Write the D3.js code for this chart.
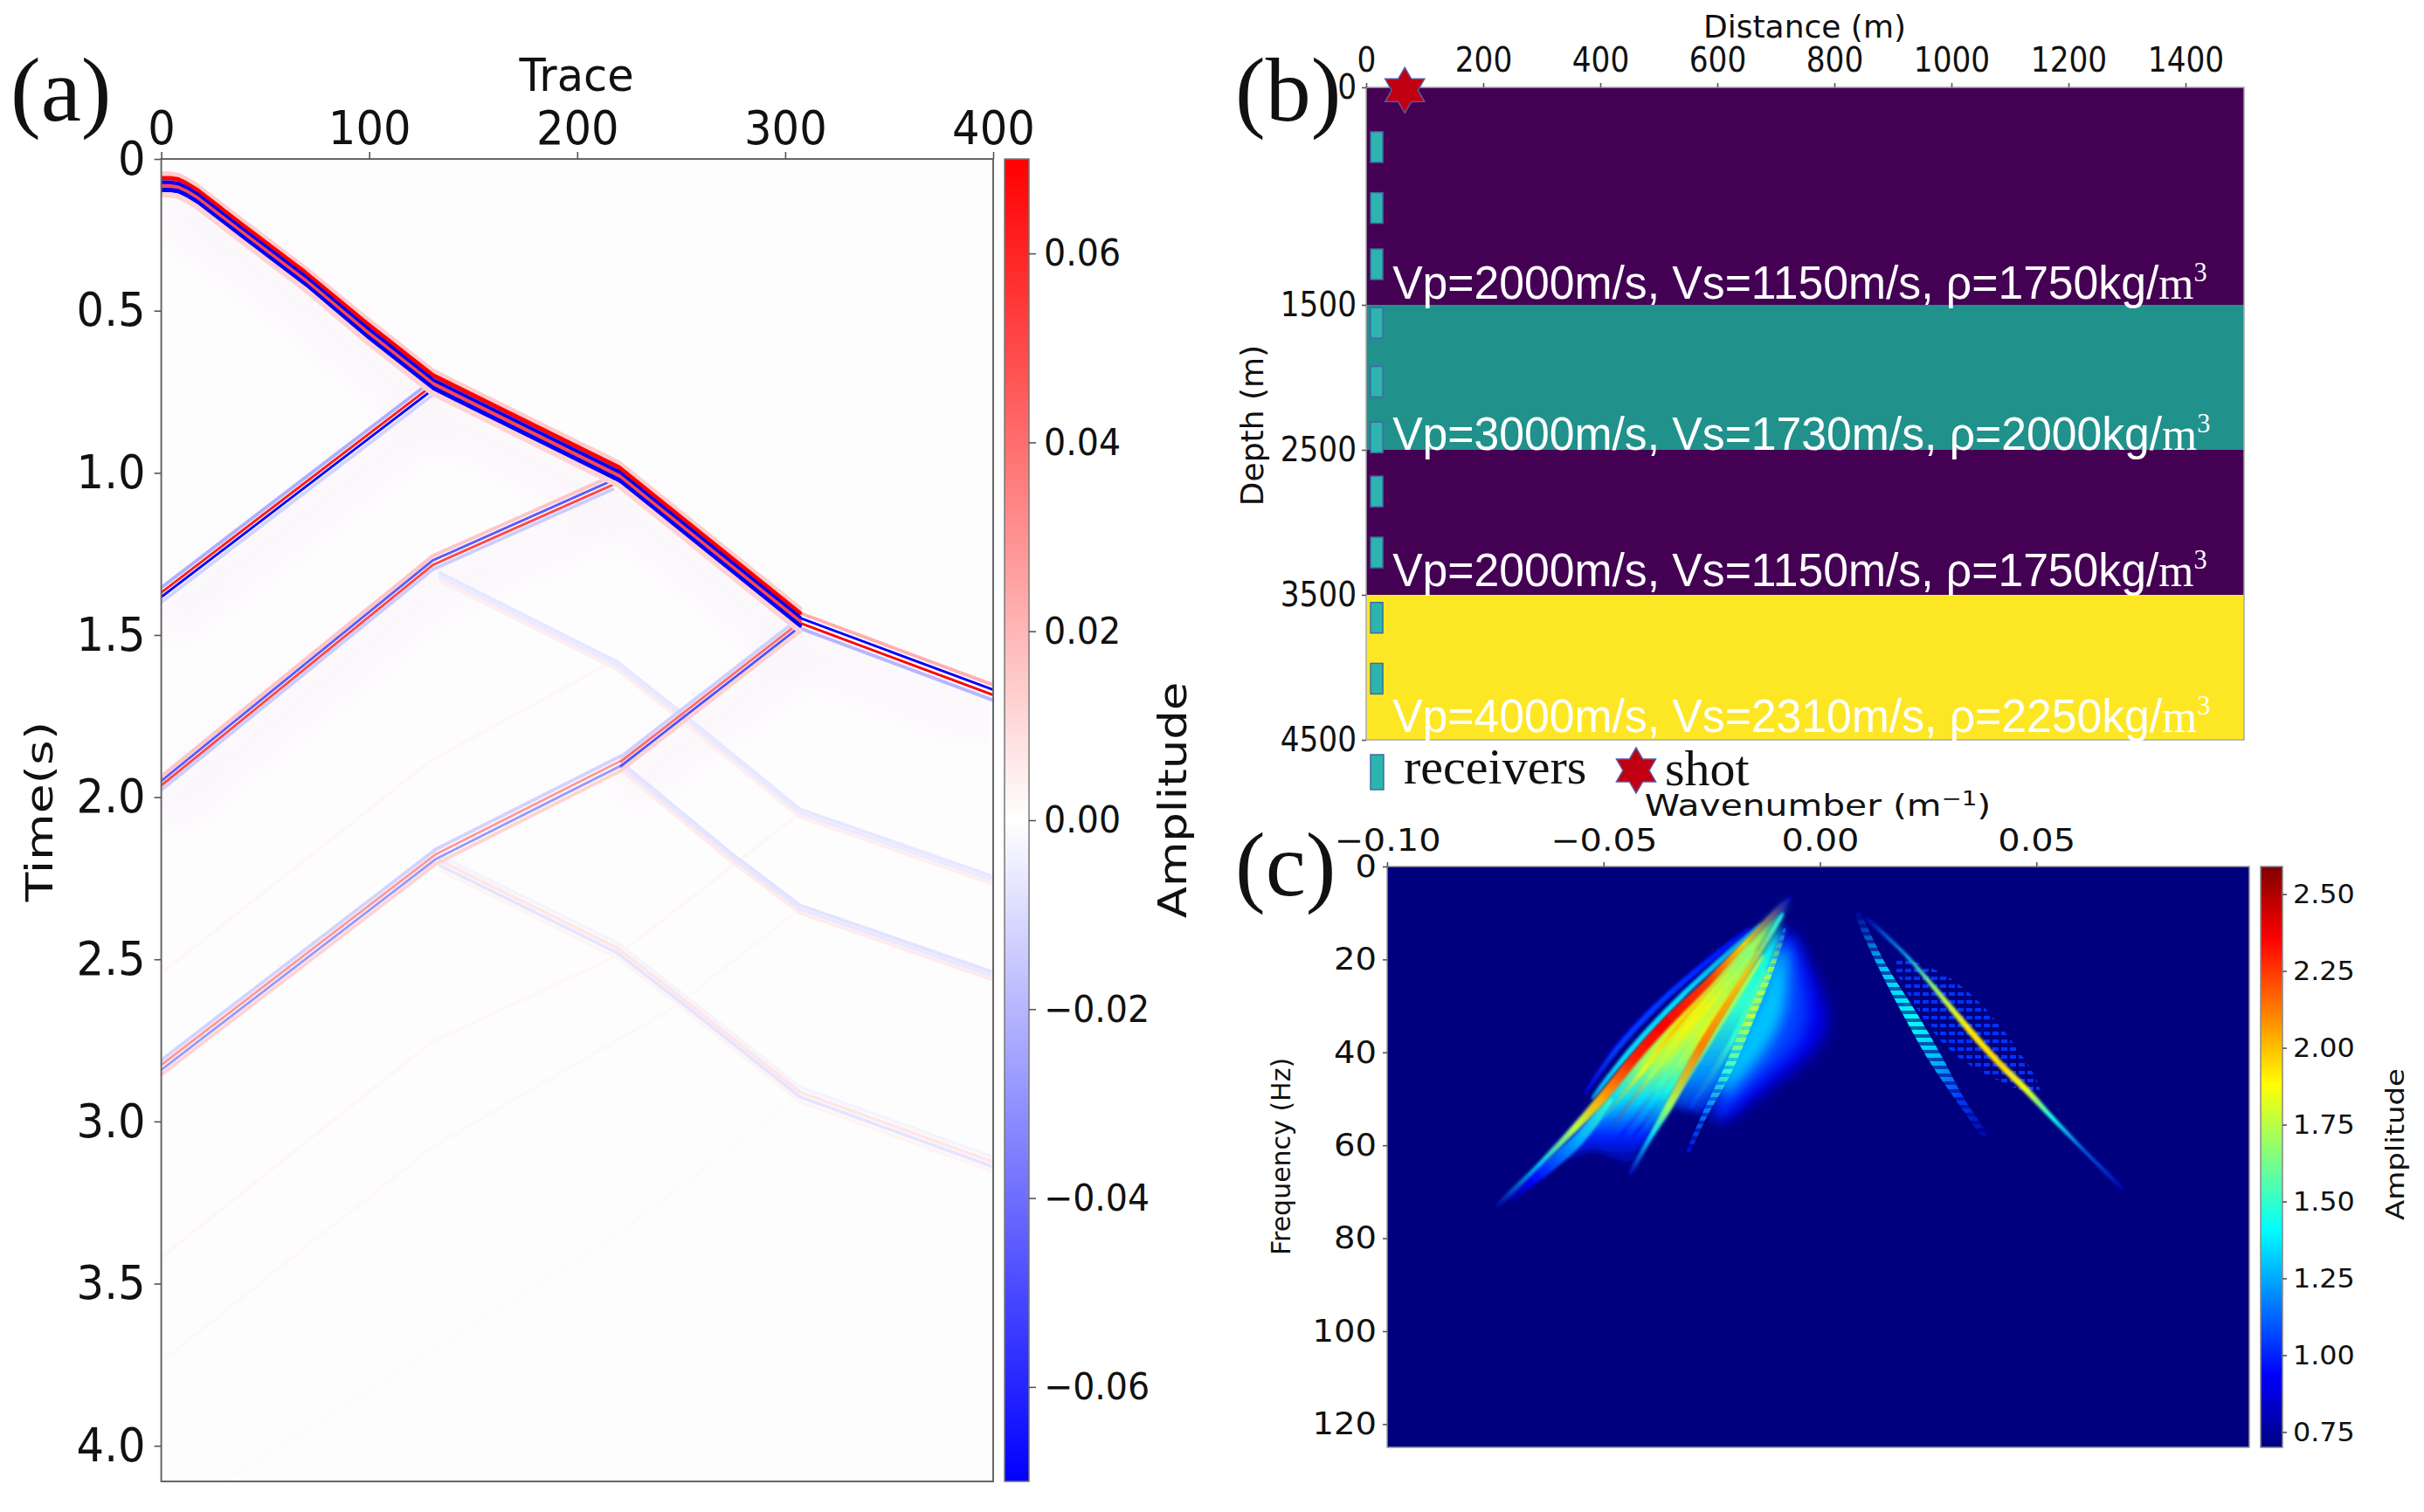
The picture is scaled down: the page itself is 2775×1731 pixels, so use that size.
<!DOCTYPE html>
<html>
<head>
<meta charset="utf-8">
<script src="https://cdn.jsdelivr.net/npm/d3@7"></script>
<style>
body { margin: 0; background: #fff; }
svg { display: block; }
text { font-family: "DejaVu Sans", sans-serif; fill: #111; }
.serif { font-family: "Liberation Serif", serif; }
.sans { font-family: "Liberation Sans", sans-serif; }
</style>
</head>
<body>
<svg id="fig" width="2775" height="1731"></svg>
<script>
// (a) shot gather: events as [trace, time]
const traceTicks = [0, 100, 200, 300, 400];
const timeTicks = [0, 0.5, 1, 1.5, 2, 2.5, 3, 3.5, 4];
const ampTicks = [-0.06, -0.04, -0.02, 0, 0.02, 0.04, 0.06];

const firstArrival = [[0, 0.09], [4, 0.09], [8, 0.094], [12, 0.107], [17, 0.128], [38, 0.239], [69, 0.40], [98, 0.562], [130.5, 0.726], [220, 1.01], [307, 1.459]];
const headWave = [[307, 1.459], [400, 1.681]];
const reflection1 = [[0, 1.379], [130, 0.742]];
const reflection2 = [[0, 1.96], [130.5, 1.28], [217, 1.033]];
const reflection3a = [[0, 2.838], [132, 2.188], [221, 1.90]];
const reflection3b = [[221, 1.90], [307, 1.471]];
const multiple1 = [[134, 1.32], [219, 1.594], [248, 1.741], [307, 2.049], [400, 2.257]];
const multiple2 = [[222, 1.91], [275, 2.19], [307, 2.345], [400, 2.552]];
const multiple3 = [[134, 2.208], [219, 2.476], [250, 2.63], [307, 2.921], [400, 3.137]];
const faint1 = [[0, 2.543], [130, 1.886], [219, 1.575]];
const faint2 = [[0, 3.42], [130, 2.755], [219, 2.49], [307, 2.05]];
const faint3 = [[0, 3.74], [130, 3.08], [246, 2.65], [307, 2.345]];
const faint4 = [[30, 4.11], [219, 3.35], [307, 2.92]];

// wavelets: [time shift, amplitude]
const waveMain = [[-0.04, 0.014], [-0.027, 0.07], [-0.012, -0.07], [0, 0.05], [0.012, -0.07], [0.029, 0.012]];
const waveHead = [[-0.027, 0.022], [-0.012, -0.07], [0.004, 0.07], [0.02, -0.02]];
const waveUp = [[-0.025, -0.022], [-0.01, 0.062], [0.004, -0.066], [0.02, -0.012]];
const waveMid = [[-0.024, 0.016], [-0.01, -0.045], [0.004, 0.05], [0.018, -0.014]];
const waveCross = [[-0.024, -0.014], [-0.01, 0.042], [0.004, -0.05], [0.018, 0.014]];
const waveLow = [[-0.027, -0.012], [-0.012, 0.028], [0.003, -0.028], [0.018, 0.012]];
const waveWeak = [[-0.012, -0.0055], [0, -0.0045], [0.012, 0.004]];
const waveFaint = [[0, 0.002]];

// (b) velocity model
const distanceTicks = [0, 200, 400, 600, 800, 1000, 1200, 1400];
const depthTicks = [0, 1500, 2500, 3500, 4500];
const layerTops = [0, 1500, 2500, 3500];
const layerBottoms = [1500, 2500, 3500, 4500];
const layerColors = ["#440154", "#21918c", "#440154", "#fde725"];
const layerVp = [2000, 3000, 2000, 4000];
const layerVs = [1150, 1730, 1150, 2310];
const layerRho = [1750, 2000, 1750, 2250];
const receiverDepths = [409, 829, 1217, 1622, 2027, 2411, 2784, 3205, 3655, 4075];
const receiverDistance = 18;
const shotDistance = 66;
const shotDepth = 20;

// (c) f-k spectrum, ridges as [wavenumber, frequency, amplitude]
const kTicks = [-0.1, -0.05, 0, 0.05];
const fTicks = [0, 20, 40, 60, 80, 100, 120];
const specTicks = [0.75, 1, 1.25, 1.5, 1.75, 2, 2.25, 2.5];
const lobeOuter = [[-0.0071, 14], [0.0012, 29.6], [-0.0008, 39], [-0.0153, 50.3], [-0.0236, 54.6], [-0.02, 40], [-0.012, 24]];
const lobeMiddle = [[-0.0075, 15], [-0.003, 28], [-0.005, 38], [-0.0165, 48], [-0.0245, 54], [-0.02, 40], [-0.012, 24]];
const lobeInner = [[-0.0085, 17], [-0.008, 30], [-0.013, 40], [-0.022, 49], [-0.022, 44], [-0.015, 30]];
const fanOutline = [[-0.007, 7], [-0.0173, 16.5], [-0.0256, 24.7], [-0.0359, 34], [-0.0431, 41.5], [-0.0502, 49.7], [-0.0564, 56], [-0.064, 64], [-0.052, 61], [-0.0441, 64], [-0.0389, 57.8], [-0.0349, 51.5], [-0.0276, 39], [-0.0173, 23.4], [-0.0095, 11]];
const fanProfile = [[7, 1.2], [15, 1.7], [30, 1.9], [42, 1.7], [50, 1.35], [58, 1.0], [65, 0.72]];
const gapOutline = [[-0.0085, 12], [-0.0173, 23.4], [-0.0276, 39], [-0.0349, 51.5], [-0.0266, 53.4], [-0.0163, 32.8], [-0.0113, 22]];
const gapProfile = [[12, 1.4], [30, 1.5], [45, 1.2], [55, 0.82]];
const specklePatch = [[0.0175, 20.3], [0.029, 23.4], [0.0403, 32.8], [0.0506, 47], [0.0454, 47.8], [0.031, 40.3], [0.0218, 29.6]];
const outerBandA = [[-0.0133, 12.2, 1.2], [-0.0318, 27.8, 1.35], [-0.0455, 41.5, 1.35], [-0.0527, 50, 1.25]];
const outerBandB = [[-0.0163, 13.3, 0.95], [-0.0359, 28.4, 1.05], [-0.0478, 40.3, 1.05], [-0.0544, 49, 0.9]];
const outerBandC = [[-0.0215, 17, 0.85], [-0.0389, 30.9, 0.9], [-0.0495, 41, 0.82]];
const tailBand = [[-0.048, 50, 1.5], [-0.056, 59, 1.25], [-0.066, 67, 0.95], [-0.072, 72, 0.75]];
const fanBand1 = [[-0.016, 16.5, 1.65], [-0.0325, 34, 2.0], [-0.041, 44, 1.85], [-0.05, 54, 1.25]];
const fanBand2 = [[-0.0155, 17.5, 1.6], [-0.031, 35, 1.9], [-0.039, 45, 1.7], [-0.049, 57, 1.05]];
const fanBand3 = [[-0.015, 18, 1.7], [-0.029, 36, 1.75], [-0.037, 47, 1.5], [-0.046, 58, 0.95]];
const fanBand4 = [[-0.014, 18, 1.65], [-0.027, 36, 1.85], [-0.035, 48, 1.45], [-0.043, 58, 0.9]];
const fanBand5 = [[-0.013, 19, 1.75], [-0.025, 37, 1.7], [-0.033, 49, 1.3], [-0.04, 58, 0.85]];
const gapBand1 = [[-0.0125, 22, 1.55], [-0.02, 37, 1.5], [-0.03, 52, 1.05]];
const gapBand2 = [[-0.0115, 22, 1.45], [-0.018, 37, 1.35], [-0.027, 53, 0.95]];
const ridgeMain = [[-0.0066, 6.5, 0.85], [-0.0173, 16.5, 1.95], [-0.0256, 24.7, 2.25], [-0.0359, 34, 2.36], [-0.0431, 41.5, 2.3], [-0.0502, 49.7, 2.05], [-0.0564, 56, 1.75], [-0.0647, 64, 1.3], [-0.075, 73.4, 0.75]];
const ridgeSecond = [[-0.0085, 10, 1.4], [-0.0173, 23.4, 2.0], [-0.0276, 39, 2.12], [-0.0349, 51.5, 1.7], [-0.0389, 57.8, 1.35], [-0.0441, 66.6, 0.8]];
const ridgeThird = [[-0.0081, 13.3, 1.1], [-0.0113, 22, 1.7], [-0.0163, 32.8, 1.75], [-0.0214, 44, 1.5], [-0.0266, 53.4, 1.15], [-0.0307, 62, 0.85]];
const rightRidge = [[0.0105, 10.9, 0.8], [0.0198, 19, 1.3], [0.0268, 26.5, 1.7], [0.0341, 34.7, 1.92], [0.0413, 42.2, 1.95], [0.0474, 47.8, 1.85], [0.0536, 54, 1.45], [0.0609, 61, 1.15], [0.0702, 69.6, 0.8]];
const rightRidge2 = [[0.0084, 9.7, 0.75], [0.0145, 21.6, 1.3], [0.0218, 33.4, 1.42], [0.0268, 41.5, 1.28], [0.0321, 49.7, 1.05], [0.0387, 58.7, 0.75]];

const svg = d3.select("#fig");
const defs = svg.append("defs");

function clipRect(id, x, y, w, h) {
  defs.append("clipPath").attr("id", id).append("rect").attr("x", x).attr("y", y).attr("width", w).attr("height", h);
}
function blurFilter(id, s) {
  defs.append("filter").attr("id", id).attr("x", "-30%").attr("y", "-30%").attr("width", "160%").attr("height", "160%")
    .attr("filterUnits", "objectBoundingBox")
    .append("feGaussianBlur").attr("stdDeviation", s);
}
blurFilter("soft", 0.7);
blurFilter("streak", 1.5);
blurFilter("base", 4);
blurFilter("glow", 8);
blurFilter("haze", 16);

// the original figure was resized unevenly, so tick text is squeezed by sx
function axisText(g, size, sx) {
  g.selectAll("text").attr("font-size", size).attr("fill", "#111")
    .attr("x", function () { return (+d3.select(this).attr("x") || 0) / sx; })
    .attr("transform", `scale(${sx},1)`);
  g.selectAll("line").attr("stroke", "#555").attr("stroke-width", 1.6);
  g.select(".domain").remove();
}
function label(x, y, txt, size, rot, sx) {
  const t = svg.append("text").attr("text-anchor", "middle").attr("font-size", size);
  t.attr("transform", `translate(${x},${y})` + (rot ? ` rotate(${rot})` : "") + (sx ? ` scale(${sx},1)` : "")).text(txt);
  return t;
}
function spine(x, y, w, h, color, width) {
  svg.append("rect").attr("x", x).attr("y", y).attr("width", w).attr("height", h)
    .attr("fill", "none").attr("stroke", color).attr("stroke-width", width);
}
function panelTag(x, y, txt) {
  svg.append("text").attr("class", "serif").attr("x", x).attr("y", y).attr("font-size", 104).text(txt);
}
function colorbarGradient(id, scale, lo, hi) {
  const grad = defs.append("linearGradient").attr("id", id).attr("x1", 0).attr("y1", 1).attr("x2", 0).attr("y2", 0);
  d3.range(0, 33).forEach(i => {
    const v = lo + (hi - lo) * i / 32;
    grad.append("stop").attr("offset", i / 32).attr("stop-color", scale(v));
  });
}

// ---------- panel (a) ----------
const aX = d3.scaleLinear().domain([0, 400]).range([184.6, 1137]);
const aY = d3.scaleLinear().domain([0, 0.5, 4.11]).range([182, 355.7, 1696]);
const bwr = d3.scaleLinear().domain([-0.07, 0, 0.07]).range(["#0000ff", "#ffffff", "#ff0000"]);

clipRect("clipA", 184.6, 182, 952.4, 1514);
svg.append("rect").attr("x", 184.6).attr("y", 182).attr("width", 952.4).attr("height", 1514).attr("fill", "#fefdfe");
const gA = svg.append("g").attr("clip-path", "url(#clipA)");

const hazeLine = d3.line().x(d => aX(d[0])).y(d => aY(d[1] + 0.09));
[firstArrival, reflection1, reflection2, reflection3b, headWave].forEach(pts => {
  gA.append("path").attr("d", hazeLine(pts)).attr("fill", "none").attr("stroke", "#f8f0f8")
    .attr("stroke-width", 60).attr("opacity", 0.45).attr("filter", "url(#haze)");
});

const events = [
  [faint4, waveFaint, 0.7], [faint3, waveFaint, 1], [faint2, waveFaint, 1.3], [faint1, waveFaint, 1.3],
  [multiple3, waveLow, 0.25], [multiple2, waveWeak, 1.4], [multiple1, waveWeak, 1.2],
  [reflection3a, waveLow, 1], [reflection3b, waveCross, 0.95], [reflection2, waveMid, 1],
  [reflection1, waveUp, 1], [headWave, waveHead, 1], [firstArrival, waveMain, 1]
];
events.forEach(([pts, wave, gain]) => {
  const g = gA.append("g").attr("filter", "url(#soft)");
  const bandWidth = wave === waveMain ? 5 : 2.95;
  wave.forEach(([shift, amp]) => {
    const line = d3.line().x(d => aX(d[0])).y(d => aY(d[1] + shift));
    const a = amp * gain;
    g.append("path").attr("d", line(pts)).attr("fill", "none")
      .attr("stroke", bwr(a)).attr("stroke-width", Math.abs(a) < 0.025 ? bandWidth + 1 : bandWidth)
      .attr("stroke-linejoin", "round").attr("stroke-linecap", "round");
  });
});
spine(184.6, 182, 952.4, 1514, "#666", 2);

svg.append("g").attr("transform", "translate(0,182)")
  .call(d3.axisTop(aX).tickValues(traceTicks).tickSize(8).tickPadding(9))
  .call(axisText, 54, 0.92);
svg.append("g").attr("transform", "translate(184.6,0)")
  .call(d3.axisLeft(aY).tickValues(timeTicks).tickSize(8).tickPadding(10).tickFormat(d => d === 0 ? "0" : d3.format(".1f")(d)))
  .call(axisText, 54, 0.92);
label(660, 104, "Trace", 51, 0, 0.97);
label(60, 929, "Time(s)", 43, -90, 1.28);

// colorbar (a)
const cbA = d3.scaleLinear().domain([-0.07, 0.07]).range([1696, 182]);
colorbarGradient("gradA", bwr, -0.07, 0.07);
svg.append("rect").attr("x", 1150).attr("y", 182).attr("width", 28).attr("height", 1514).attr("fill", "url(#gradA)");
spine(1150, 182, 28, 1514, "#777", 1.5);
svg.append("g").attr("transform", "translate(1178,0)")
  .call(d3.axisRight(cbA).tickValues(ampTicks).tickSize(8).tickPadding(9).tickFormat(d3.format(".2f")))
  .call(axisText, 43, 0.92);
label(1358, 916, "Amplitude", 44, -90, 1.2);
panelTag(12, 138, "(a)");

// ---------- panel (b) ----------
const bX = d3.scaleLinear().domain([0, 1500]).range([1564, 2569]);
const bY = d3.scaleLinear().domain([0, 4500]).range([100, 847]);
layerTops.forEach((top, i) => {
  svg.append("rect").attr("x", bX(0)).attr("y", bY(top)).attr("width", bX(1500) - bX(0))
    .attr("height", bY(layerBottoms[i]) - bY(top)).attr("fill", layerColors[i]);
});
spine(bX(0), bY(0), bX(1500) - bX(0), bY(4500) - bY(0), "#aaa", 1.5);
receiverDepths.forEach(d => {
  svg.append("rect").attr("x", bX(receiverDistance) - 7).attr("y", bY(d) - 17).attr("width", 14).attr("height", 35)
    .attr("fill", "#2cb5ae").attr("stroke", "#3f6aa5").attr("stroke-width", 1.5);
});

const hexagram = (r) => d3.lineRadial().angle(d => d[0]).radius(d => d[1]).curve(d3.curveLinearClosed)(
  d3.range(12).map(i => [i * Math.PI / 6, i % 2 ? r * 0.58 : r]));
function star(x, y, r) {
  svg.append("path").attr("transform", `translate(${x},${y})`).attr("d", hexagram(r))
    .attr("fill", "#c00010").attr("stroke", "#5a5aa0").attr("stroke-width", 1.5);
}
star(bX(shotDistance), bY(shotDepth), 26);

svg.append("g").attr("transform", `translate(0,${bY(0)})`)
  .call(d3.axisTop(bX).tickValues(distanceTicks).tickSize(5).tickPadding(13).tickFormat(d3.format("d")))
  .call(axisText, 39, 0.88);
svg.append("g").attr("transform", `translate(${bX(0)},0)`)
  .call(d3.axisLeft(bY).tickValues(depthTicks).tickSize(5).tickPadding(6).tickFormat(d3.format("d")))
  .call(axisText, 39, 0.88);
label(2066, 43, "Distance (m)", 36);
label(1446, 487, "Depth (m)", 36, -90);
panelTag(1414, 138, "(b)");

// the second layer's caption sits lower in the original
const captionLift = [7, 0, 10, 9];
layerBottoms.forEach((bottom, i) => {
  const t = svg.append("text").attr("class", "sans").attr("font-size", 53)
    .attr("transform", `translate(${bX(45)},${bY(bottom) - captionLift[i]}) scale(0.975,1)`).style("fill", "#fff");
  t.append("tspan").attr("class", "sans").style("fill", "#fff").text(`Vp=${layerVp[i]}m/s, Vs=${layerVs[i]}m/s, ρ=${layerRho[i]}kg/`);
  t.append("tspan").attr("class", "serif").style("fill", "#fff").text("m");
  t.append("tspan").attr("class", "serif").attr("font-size", 31).attr("dy", -20).style("fill", "#fff").text("3");
});

// legend
svg.append("rect").attr("x", 1569).attr("y", 864).attr("width", 15).attr("height", 40)
  .attr("fill", "#2cb5ae").attr("stroke", "#3f6aa5").attr("stroke-width", 1.5);
svg.append("text").attr("class", "serif").attr("x", 1607).attr("y", 897).attr("font-size", 58).text("receivers");
star(1873, 882, 26);
svg.append("text").attr("class", "serif").attr("x", 1906).attr("y", 899).attr("font-size", 58).text("shot");

// ---------- panel (c) ----------
const cX = d3.scaleLinear().domain([-0.1, 0.0992]).range([1588, 2575]);
const cY = d3.scaleLinear().domain([0, 125]).range([992, 1657]);
const jetStops = ["#00007f", "#0000ff", "#007fff", "#00ffff", "#7fff7f", "#ffff00", "#ff7f00", "#ff0000", "#7f0000"];
const jet = d3.scaleLinear()
  .domain(jetStops.map((c, i) => 0.7 + (2.59 - 0.7) * i / (jetStops.length - 1)))
  .range(jetStops);

clipRect("clipC", 1588, 992, 987, 665);
const gC = svg.append("g").attr("clip-path", "url(#clipC)");
gC.append("rect").attr("x", 1588).attr("y", 992).attr("width", 987).attr("height", 665).attr("fill", jet(0.7));

const smooth = d3.line().x(d => cX(d[0])).y(d => cY(d[1])).curve(d3.curveCardinalClosed);
const straight = d3.line().x(d => cX(d[0])).y(d => cY(d[1])).curve(d3.curveLinearClosed);
gC.append("path").attr("d", smooth(lobeOuter)).attr("fill", jet(0.9)).attr("filter", "url(#glow)");
gC.append("path").attr("d", smooth(lobeMiddle)).attr("fill", jet(1.05)).attr("filter", "url(#glow)");
gC.append("path").attr("d", smooth(lobeInner)).attr("fill", jet(1.3)).attr("filter", "url(#glow)");

let gradId = 0;
function profileFill(outline, profile) {
  const id = "profile" + (gradId++);
  const top = cY(profile[0][0]), bottom = cY(profile[profile.length - 1][0]);
  const grad = defs.append("linearGradient").attr("id", id).attr("gradientUnits", "userSpaceOnUse")
    .attr("x1", 0).attr("y1", top).attr("x2", 0).attr("y2", bottom);
  profile.forEach(p => grad.append("stop").attr("offset", (cY(p[0]) - top) / (bottom - top)).attr("stop-color", jet(p[1])));
  gC.append("path").attr("d", straight(outline)).attr("fill", `url(#${id})`).attr("filter", "url(#base)");
}
profileFill(fanOutline, fanProfile);
profileFill(gapOutline, gapProfile);

// dotted patch between the two right ridges
const dots = defs.append("pattern").attr("id", "dots").attr("patternUnits", "userSpaceOnUse").attr("width", 10).attr("height", 9);
dots.append("rect").attr("x", 1).attr("y", 2).attr("width", 7).attr("height", 4).attr("fill", jet(1.03));
gC.append("path").attr("d", smooth(specklePatch)).attr("fill", "url(#dots)").attr("filter", "url(#soft)");

// horizontal stripes seen on the fainter ridges
const stripes = defs.append("pattern").attr("id", "stripes").attr("patternUnits", "userSpaceOnUse").attr("width", 10).attr("height", 9);
stripes.append("rect").attr("width", 10).attr("height", 9).attr("fill", "#666");
stripes.append("rect").attr("width", 10).attr("height", 5).attr("fill", "#fff");
defs.append("mask").attr("id", "stripeMask").attr("maskUnits", "userSpaceOnUse")
  .attr("x", 1588).attr("y", 992).attr("width", 987).attr("height", 665)
  .append("rect").attr("x", 1588).attr("y", 992).attr("width", 987).attr("height", 665).attr("fill", "url(#stripes)");

// gradient along a ridge, stops from its amplitudes
function ridgeGradient(pts) {
  const id = "ridge" + (gradId++);
  const x0 = cX(pts[0][0]), y0 = cY(pts[0][1]);
  const x1 = cX(pts[pts.length - 1][0]), y1 = cY(pts[pts.length - 1][1]);
  const len2 = (x1 - x0) * (x1 - x0) + (y1 - y0) * (y1 - y0);
  const grad = defs.append("linearGradient").attr("id", id).attr("gradientUnits", "userSpaceOnUse")
    .attr("x1", x0).attr("y1", y0).attr("x2", x1).attr("y2", y1);
  pts.forEach(p => {
    const off = ((cX(p[0]) - x0) * (x1 - x0) + (cY(p[1]) - y0) * (y1 - y0)) / len2;
    grad.append("stop").attr("offset", off).attr("stop-color", jet(p[2]));
  });
  return id;
}
// tapered ribbon, thin at both ends
function ribbon(pts, width, striped) {
  const n = pts.length - 1;
  const c = pts.map(p => [cX(p[0]), cY(p[1])]);
  const side = (sign) => c.map((p, i) => {
    const a = c[Math.max(i - 1, 0)], b = c[Math.min(i + 1, n)];
    const dx = b[0] - a[0], dy = b[1] - a[1], len = Math.hypot(dx, dy);
    const pos = i / n, taper = Math.min(1, 0.18 + 2.2 * Math.min(pos, 1 - pos));
    const w = sign * width * taper / 2;
    return [p[0] - dy / len * w, p[1] + dx / len * w];
  });
  const outline = side(1).concat(side(-1).reverse());
  const holder = striped ? gC.append("g").attr("filter", "url(#soft)").append("g").attr("mask", "url(#stripeMask)") : gC;
  const path = holder.append("path").attr("d", d3.line().curve(d3.curveCatmullRomClosed)(outline))
    .attr("fill", `url(#${ridgeGradient(pts)})`);
  if (!striped) path.attr("filter", "url(#streak)");
}
ribbon(outerBandC, 6);
ribbon(outerBandB, 6);
ribbon(outerBandA, 7);
ribbon(gapBand2, 6);
ribbon(gapBand1, 6);
ribbon(tailBand, 14);
ribbon(fanBand5, 5);
ribbon(fanBand4, 5);
ribbon(fanBand3, 5);
ribbon(fanBand2, 5);
ribbon(fanBand1, 5);
ribbon(ridgeThird, 10, true);
ribbon(ridgeSecond, 9);
ribbon(ridgeMain, 11);
ribbon(rightRidge2, 15, true);
ribbon(rightRidge, 7);
spine(1588, 992, 987, 665, "#9a9a9a", 1.5);

svg.append("g").attr("transform", "translate(0,992)")
  .call(d3.axisTop(cX).tickValues(kTicks).tickSize(5).tickPadding(13).tickFormat(d3.format(".2f")))
  .call(axisText, 35, 1.14);
svg.append("g").attr("transform", "translate(1588,0)")
  .call(d3.axisLeft(cY).tickValues(fTicks).tickSize(5).tickPadding(7).tickFormat(d3.format("d")))
  .call(axisText, 35, 1.1);
const wn = label(2081, 934, "", 34, 0, 1.2);
wn.append("tspan").text("Wavenumber (m");
wn.append("tspan").attr("font-size", 23).attr("dy", -12).text("−1");
wn.append("tspan").attr("dy", 12).text(")");
label(1477, 1324, "Frequency (Hz)", 30, -90);
panelTag(1414, 1025, "(c)");

// colorbar (c)
const cbC = d3.scaleLinear().domain([0.7, 2.59]).range([1657, 992]);
colorbarGradient("gradC", jet, 0.7, 2.59);
svg.append("rect").attr("x", 2588).attr("y", 992).attr("width", 25).attr("height", 665).attr("fill", "url(#gradC)");
spine(2588, 992, 25, 665, "#888", 1.5);
svg.append("g").attr("transform", "translate(2613,0)")
  .call(d3.axisRight(cbC).tickValues(specTicks).tickSize(5).tickPadding(7).tickFormat(d3.format(".2f")))
  .call(axisText, 30, 1.06);
label(2752, 1310, "Amplitude", 29, -90, 1.17);
</script>
</body>
</html>
